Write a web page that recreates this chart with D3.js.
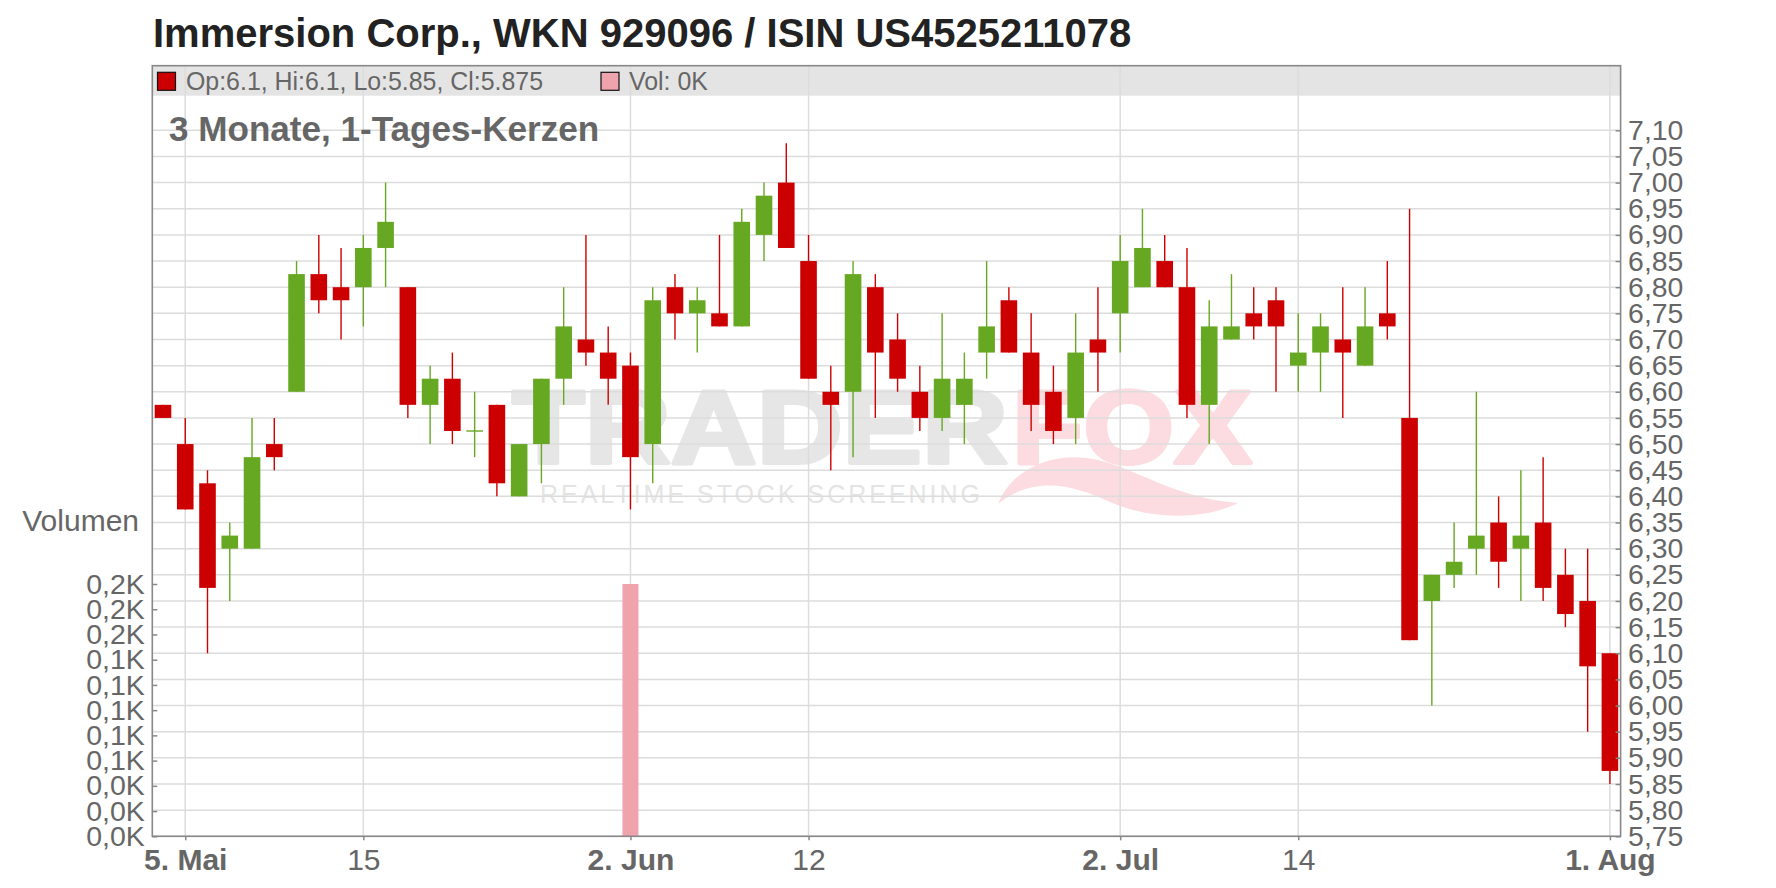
<!DOCTYPE html>
<html><head><meta charset="utf-8">
<script src="https://cdn.jsdelivr.net/npm/d3@7"></script>
<style>
html,body{margin:0;padding:0;background:#fff;}
svg{display:block;font-family:"Liberation Sans",Arial,sans-serif;}
</style></head>
<body>
<svg id="c" width="1776" height="888"></svg>
<script>
// ---- data ----
const dates = ["2025-05-02","2025-05-05","2025-05-06","2025-05-07","2025-05-08","2025-05-09",
"2025-05-12","2025-05-13","2025-05-14","2025-05-15","2025-05-16",
"2025-05-19","2025-05-20","2025-05-21","2025-05-22","2025-05-23",
"2025-05-26","2025-05-27","2025-05-28","2025-05-29","2025-05-30",
"2025-06-02","2025-06-03","2025-06-04","2025-06-05","2025-06-06",
"2025-06-09","2025-06-10","2025-06-11","2025-06-12","2025-06-13",
"2025-06-16","2025-06-17","2025-06-18","2025-06-19","2025-06-20",
"2025-06-23","2025-06-24","2025-06-25","2025-06-26","2025-06-27",
"2025-06-30","2025-07-01","2025-07-02","2025-07-03","2025-07-04",
"2025-07-07","2025-07-08","2025-07-09","2025-07-10","2025-07-11",
"2025-07-14","2025-07-15","2025-07-16","2025-07-17","2025-07-18",
"2025-07-21","2025-07-22","2025-07-23","2025-07-24","2025-07-25",
"2025-07-28","2025-07-29","2025-07-30","2025-07-31","2025-08-01"];
const open  = [6.575,6.50,6.425,6.30,6.30,6.50, 6.60,6.825,6.80,6.80,6.875, 6.80,6.575,6.625,6.525,6.575,
  6.40,6.50,6.625,6.70,6.675, 6.65,6.50,6.80,6.75,6.75, 6.725,6.90,7.00,6.85,6.60, 6.60,6.80,6.70,6.60,6.55,
  6.575,6.675,6.775,6.675,6.60, 6.55,6.70,6.75,6.80,6.85, 6.80,6.575,6.70,6.75,6.775, 6.65,6.675,6.70,6.65,6.75,
  6.55,6.20,6.25,6.30,6.35, 6.30,6.35,6.25,6.20,6.10];
const high  = [6.575,6.55,6.45,6.35,6.55,6.55, 6.85,6.90,6.875,6.90,7.00, 6.80,6.65,6.675,6.60,6.575,
  6.50,6.625,6.80,6.90,6.725, 6.675,6.80,6.825,6.80,6.90, 6.95,7.00,7.075,6.90,6.65, 6.85,6.825,6.75,6.65,6.75,
  6.675,6.85,6.80,6.75,6.65, 6.75,6.80,6.90,6.95,6.90, 6.875,6.775,6.825,6.80,6.80, 6.75,6.75,6.80,6.80,6.85,
  6.95,6.25,6.35,6.60,6.40, 6.45,6.475,6.30,6.30,6.10];
const low   = [6.55,6.375,6.10,6.20,6.30,6.45, 6.60,6.75,6.70,6.725,6.80, 6.55,6.50,6.50,6.475,6.40,
  6.40,6.425,6.575,6.65,6.575, 6.375,6.425,6.70,6.675,6.725, 6.725,6.85,6.875,6.625,6.45, 6.475,6.55,6.60,6.525,6.525,
  6.50,6.625,6.675,6.525,6.50, 6.50,6.60,6.675,6.80,6.80, 6.55,6.50,6.70,6.70,6.60, 6.60,6.60,6.55,6.65,6.70,
  6.125,6.00,6.225,6.25,6.225, 6.20,6.20,6.15,5.95,5.85];
const close = [6.55,6.375,6.225,6.325,6.475,6.475, 6.825,6.775,6.775,6.875,6.925, 6.575,6.625,6.525,6.525,6.425,
  6.50,6.625,6.725,6.675,6.625, 6.475,6.775,6.75,6.775,6.725, 6.925,6.975,6.875,6.625,6.575, 6.825,6.675,6.625,6.55,6.625,
  6.625,6.725,6.675,6.575,6.525, 6.675,6.675,6.85,6.875,6.80, 6.575,6.725,6.725,6.725,6.725, 6.675,6.725,6.675,6.725,6.725,
  6.125,6.25,6.275,6.325,6.275, 6.325,6.225,6.175,6.075,5.875];
const volume = [0,0,0,0,0,0, 0,0,0,0,0, 0,0,0,0,0, 0,0,0,0,0, 200,0,0,0,0, 0,0,0,0,0, 0,0,0,0,0,
  0,0,0,0,0, 0,0,0,0,0, 0,0,0,0,0, 0,0,0,0,0, 0,0,0,0,0, 0,0,0,0,0];
const xTickDates  = ["2025-05-05","2025-05-15","2025-06-02","2025-06-12","2025-07-02","2025-07-14","2025-08-01"];
const xTickLabels = ["5. Mai","15","2. Jun","12","2. Jul","14","1. Aug"];
const xTickBold   = [true,false,true,false,true,false,true];
const priceTicks = [5.75,5.80,5.85,5.90,5.95,6.00,6.05,6.10,6.15,6.20,6.25,6.30,6.35,6.40,6.45,6.50,
  6.55,6.60,6.65,6.70,6.75,6.80,6.85,6.90,6.95,7.00,7.05,7.10];
const volTicks = [0,20,40,60,80,100,120,140,160,180,200];
const volTickLabels = ["0,0K","0,0K","0,0K","0,1K","0,1K","0,1K","0,1K","0,1K","0,2K","0,2K","0,2K"];
const titleText = "Immersion Corp., WKN 929096 / ISIN US4525211078";
const subtitleText = "3 Monate, 1-Tages-Kerzen";
const legendText = "Op:6.1, Hi:6.1, Lo:5.85, Cl:5.875";
const legendVolText = "Vol: 0K";

// ---- layout ----
const L = 152.3, R = 1620.6, T = 65.7, B = 836.3;
const RED = "#cc0000", GREEN = "#66a822", PINK = "#eea3ad", TXT = "#666", GRID = "#dcdcdc", FRAME = "#888";
const svg = d3.select("#c");

const x = d3.scaleLinear().domain([-0.48, dates.length - 1 + 0.48]).range([L, R]);
const y = d3.scaleLinear().domain([5.75, 7.10]).range([B, 130.3]);
const yv = d3.scaleLinear().domain([0, 200]).range([B, 584]);

// title
svg.append("text").attr("x", 153).attr("y", 46.5).attr("font-size", 40).attr("font-weight", "bold")
  .attr("fill", "#222").text(titleText);

// legend band
svg.append("rect").attr("x", L).attr("y", T).attr("width", R - L).attr("height", 30).attr("fill", "#e4e4e4");

// watermark
const wm = svg.append("g");
wm.append("text").attr("x", 512).attr("y", 463).attr("font-size", 104).attr("font-weight", "bold")
  .attr("fill", "#e6e6e6").attr("stroke", "#e6e6e6").attr("stroke-width", 4).attr("stroke-linejoin", "round")
  .attr("textLength", 496).attr("lengthAdjust", "spacingAndGlyphs").text("TRADER");
wm.append("text").attr("x", 1012).attr("y", 463).attr("font-size", 104).attr("font-weight", "bold")
  .attr("fill", "#fcdce0").attr("stroke", "#fcdce0").attr("stroke-width", 4).attr("stroke-linejoin", "round")
  .attr("textLength", 240).attr("lengthAdjust", "spacingAndGlyphs").text("FOX");
wm.append("path").attr("fill", "#fcdce0")
  .attr("d", "M998,504 C1012,468 1055,450 1098,460 C1140,470 1175,498 1238,503 C1205,520 1150,520 1110,502 C1075,486 1035,474 998,504 Z");
wm.append("text").attr("x", 540).attr("y", 503).attr("font-size", 25)
  .attr("fill", "#e4e4e4").attr("textLength", 440).attr("lengthAdjust", "spacing").text("REALTIME STOCK SCREENING");

// grid
const grid = svg.append("g").attr("stroke", GRID).attr("stroke-width", 1.5);
grid.selectAll("line.h").data(priceTicks).join("line")
  .attr("x1", L).attr("x2", R).attr("y1", d => y(d)).attr("y2", d => y(d));
const tickIdx = xTickDates.map(d => dates.indexOf(d));
grid.selectAll("line.v").data(tickIdx).join("line")
  .attr("x1", d => x(d)).attr("x2", d => x(d)).attr("y1", T).attr("y2", B);

// legend items
svg.append("rect").attr("x", 157.5).attr("y", 72.3).attr("width", 18).attr("height", 18)
  .attr("fill", RED).attr("stroke", "#111").attr("stroke-width", 1.2);
svg.append("text").attr("x", 186).attr("y", 90).attr("font-size", 24.9).attr("fill", TXT).text(legendText);
svg.append("rect").attr("x", 601).attr("y", 72.3).attr("width", 18).attr("height", 18)
  .attr("fill", PINK).attr("stroke", "#111").attr("stroke-width", 1.2);
svg.append("text").attr("x", 629).attr("y", 90).attr("font-size", 24.9).attr("fill", TXT).text(legendVolText);

// subtitle
svg.append("text").attr("x", 169).attr("y", 140.5).attr("font-size", 35.1).attr("font-weight", "bold")
  .attr("fill", TXT).text(subtitleText);

// volume bars
const bars = dates.map((d, i) => ({ i, v: volume[i] })).filter(d => d.v > 0);
svg.selectAll("rect.vol").data(bars).join("rect")
  .attr("x", d => x(d.i) - 8).attr("width", 16)
  .attr("y", d => yv(d.v)).attr("height", d => B - yv(d.v)).attr("fill", PINK);

// candles
const candles = dates.map((d, i) => ({ i, o: open[i], h: high[i], l: low[i], c: close[i] }));
const cg = svg.append("g");
const col = d => d.c >= d.o ? GREEN : RED;
cg.selectAll("line.wick").data(candles).join("line")
  .attr("x1", d => x(d.i)).attr("x2", d => x(d.i))
  .attr("y1", d => y(d.h)).attr("y2", d => y(d.l))
  .attr("stroke", col).attr("stroke-width", 1.4);
const bw = 16.6;
cg.selectAll("rect.body").data(candles).join("rect")
  .attr("x", d => x(d.i) - bw / 2).attr("width", bw)
  .attr("y", d => Math.min(y(d.o), y(d.c)) - (d.o === d.c ? 0.7 : 0))
  .attr("height", d => Math.max(1.4, Math.abs(y(d.o) - y(d.c))))
  .attr("fill", col);

// frame
svg.append("rect").attr("x", L).attr("y", T).attr("width", R - L).attr("height", B - T)
  .attr("fill", "none").attr("stroke", FRAME).attr("stroke-width", 1.6);

// price axis (right)
const pAx = svg.append("g").attr("transform", `translate(${R},0)`)
  .call(d3.axisRight(y).tickValues(priceTicks).tickSize(0).tickPadding(7.5)
    .tickFormat(d => d3.format(".2f")(d).replace(".", ",")));
pAx.select(".domain").remove();
pAx.selectAll("text").attr("font-size", 28.4).attr("fill", TXT).attr("font-family", "Liberation Sans, Arial, sans-serif");
const pTk = svg.append("g").attr("transform", `translate(${R},0)`)
  .call(d3.axisLeft(y).tickValues(priceTicks).tickSize(5).tickFormat(""));
pTk.select(".domain").remove();
pTk.selectAll("line").attr("stroke", FRAME).attr("stroke-width", 1.5);

// volume axis (left)
const vAx = svg.append("g").attr("transform", `translate(${L},0)`)
  .call(d3.axisLeft(yv).tickValues(volTicks).tickSize(0).tickPadding(7.5)
    .tickFormat((d, i) => volTickLabels[i]));
vAx.select(".domain").remove();
vAx.selectAll("text").attr("font-size", 28.5).attr("fill", TXT).attr("font-family", "Liberation Sans, Arial, sans-serif");
const vTk = svg.append("g").attr("transform", `translate(${L},0)`)
  .call(d3.axisRight(yv).tickValues(volTicks).tickSize(5).tickFormat(""));
vTk.select(".domain").remove();
vTk.selectAll("line").attr("stroke", FRAME).attr("stroke-width", 1.5);

svg.append("text").attr("x", 139).attr("y", 531).attr("text-anchor", "end")
  .attr("font-size", 30).attr("fill", TXT).text("Volumen");

// x axis
const xAx = svg.append("g").attr("transform", `translate(0,${B})`)
  .call(d3.axisBottom(x).tickValues(tickIdx).tickSize(4).tickPadding(8.5)
    .tickFormat((d, i) => xTickLabels[i]));
xAx.select(".domain").remove();
xAx.selectAll("line").attr("stroke", FRAME).attr("stroke-width", 1.5);
xAx.selectAll("text").attr("font-size", 30).attr("fill", TXT)
  .attr("font-family", "Liberation Sans, Arial, sans-serif")
  .attr("font-weight", (d, i) => xTickBold[i] ? "bold" : "normal");
</script>
</body></html>
